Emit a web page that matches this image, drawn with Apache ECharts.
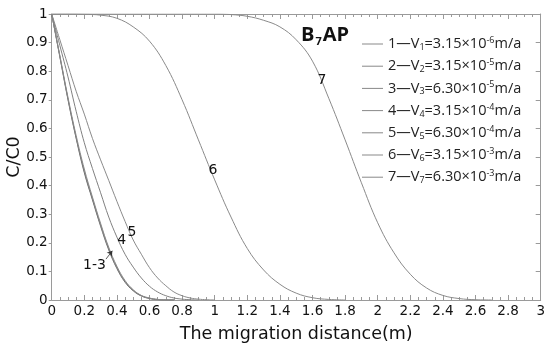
<!DOCTYPE html>
<html><head><meta charset="utf-8">
<script src="https://cdn.jsdelivr.net/npm/echarts@6/dist/echarts.min.js"></script>
<style>html,body{margin:0;padding:0;background:#fff}#c{width:550px;height:347px}</style>
</head><body><div id="c"></div>
<script>
// ---- data ----
const xTicks = ['0','0.2','0.4','0.6','0.8','1','1.2','1.4','1.6','1.8','2','2.2','2.4','2.6','2.8','3'];
const yTicks = ['0','0.1','0.2','0.3','0.4','0.5','0.6','0.7','0.8','0.9','1'];

const xA = [0,0.05,0.1,0.15,0.2,0.25,0.3,0.35,0.4,0.45,0.5,0.55,0.6,0.65,0.7,0.75];
const y1 = [1,0.85,0.70,0.565,0.445,0.35,0.258,0.175,0.11,0.062,0.032,0.014,0.005,0.001,0,0];
const y2 = [1,0.852,0.703,0.568,0.45,0.354,0.262,0.179,0.113,0.065,0.034,0.015,0.006,0.002,0,0];
const y3 = [1,0.855,0.708,0.575,0.458,0.36,0.268,0.184,0.118,0.068,0.036,0.016,0.007,0.002,0.001,0];

const xB = [0,0.05,0.1,0.15,0.2,0.25,0.3,0.35,0.4,0.45,0.5,0.55,0.6,0.65,0.7,0.75,0.8,0.85,0.9];
const y4 = [1,0.89,0.78,0.66,0.55,0.46,0.375,0.29,0.22,0.16,0.115,0.077,0.048,0.028,0.015,0.007,0.003,0.001,0];

const xC = [0,0.05,0.1,0.15,0.2,0.25,0.3,0.35,0.4,0.45,0.5,0.55,0.6,0.65,0.7,0.75,0.8,0.85,0.9,0.95,1.0];
const y5 = [1,0.91,0.82,0.73,0.65,0.565,0.49,0.418,0.345,0.275,0.21,0.16,0.113,0.077,0.05,0.028,0.015,0.007,0.003,0.001,0];

const xD = [0,0.1,0.2,0.3,0.4,0.5,0.6,0.7,0.8,0.9,1.0,1.1,1.2,1.3,1.4,1.5,1.6,1.7,1.8];
const y6 = [1,1,0.999,0.996,0.985,0.955,0.905,0.82,0.70,0.56,0.42,0.29,0.18,0.105,0.055,0.024,0.008,0.002,0];

const xE = [0,0.2,0.4,0.6,0.8,1.0,1.1,1.2,1.3,1.4,1.5,1.6,1.7,1.8,1.9,2.0,2.1,2.2,2.3,2.4,2.5,2.6,2.7];
const y7 = [1,1,1,1,1,1,0.998,0.992,0.978,0.955,0.91,0.835,0.705,0.56,0.41,0.27,0.165,0.09,0.042,0.016,0.005,0.001,0];

const seriesNames = ['1','2','3','4','5','6','7'];
const legendSub = ['1','2','3','4','5','6','7'];
const legendCoef = ['3.15','3.15','6.30','3.15','6.30','3.15','6.30'];
const legendExp = ['-6','-5','-5','-4','-4','-3','-3'];

// annotation labels: [text, x, y]
const annos = [['7',1.658,0.769],['6',0.99,0.455],['4',0.43,0.21],['5',0.493,0.238],['1-3',0.262,0.122]];
const arrowFrom = [0.333,0.143], arrowTo = [0.372,0.172];

// ---- build ----
function pairs(xs, ys){ return xs.map((x,i)=>[x, ys[i]]); }
const allData = [pairs(xA,y1),pairs(xA,y2),pairs(xA,y3),pairs(xB,y4),pairs(xC,y5),pairs(xD,y6),pairs(xE,y7)];
const lineColors = ['#707070','#7a7a7a','#8a8a8a','#808080','#8a8a8a','#8a8a8a','#8a8a8a'];

const fontTick = 'DejaVu Sans, Liberation Sans, sans-serif';
const legendFont = 'Open Sans, Noto Sans, sans-serif';
const axisGrey = '#9a9a9a';

const series = allData.map((d,i)=>({
  name: seriesNames[i], type:'line', data:d, showSymbol:false, symbol:'none',
  smooth:0.4,
  lineStyle:{color: lineColors[i], width:1},
  itemStyle:{color: lineColors[i]},
  animation:false
}));
series.push({
  name:'anno', type:'line', data:[], xAxisIndex:0, yAxisIndex:0, silent:true,
  markPoint:{
    symbol:'circle', symbolSize:0, animation:false,
    label:{show:true, position:'inside', color:'#111', fontSize:14, fontFamily:fontTick},
    data: annos.map(a=>({coord:[a[1],a[2]], value:a[0], label:{formatter:a[0]}}))
  },
  markLine:{
    silent:true, animation:false, symbol:['none','arrow'], symbolSize:5,
    lineStyle:{color:'#333', width:0.8, type:'solid'}, label:{show:false},
    data:[[{coord:arrowFrom},{coord:arrowTo}]]
  }
});

const chart = echarts.init(document.getElementById('c'), null, {renderer:'canvas'});
chart.setOption({
  backgroundColor:'#fff',
  animation:false,
  title:{
    text:'{b|B}{s|7}{b|AP}', left:296, top:20,
    textStyle:{rich:{
      b:{fontSize:20, fontWeight:'bold', fontFamily:'Open Sans, Liberation Sans, sans-serif', color:'#111', verticalAlign:'top', lineHeight:22},
      s:{fontSize:11, fontWeight:'bold', fontFamily:'Open Sans, Liberation Sans, sans-serif', color:'#111', verticalAlign:'bottom', lineHeight:22, padding:[8,1,0,1]}
    }}
  },
  legend:{
    show:true,
    orient:'vertical', left:357, top:31, itemWidth:21, itemHeight:1, itemGap:6.2,
    icon:'rect',
    itemStyle:{color:'#888', borderWidth:0, opacity:1},
    data: seriesNames,
    formatter: function(name){
      const i = seriesNames.indexOf(name);
      return '{t|'+name+'—V}{sub|'+legendSub[i]+'}{t|='+legendCoef[i]+'×10}{sup|'+legendExp[i]+'}{t|m/a}';
    },
    textStyle:{
      color:'#222',
      rich:{
        t:{fontSize:14.5, fontFamily:legendFont, color:'#222', lineHeight:16},
        sub:{fontSize:9, fontFamily:legendFont, color:'#222', lineHeight:16, verticalAlign:'bottom'},
        sup:{fontSize:9, fontFamily:legendFont, color:'#222', lineHeight:16, verticalAlign:'top'}
      }
    }
  },
  grid:{left:51.7, right:9.3, top:14, bottom:47, containLabel:false, outerBoundsMode:'none'},
  xAxis:[{
    type:'value', min:0, max:3, interval:0.2, position:'bottom',
    name:'The migration distance(m)', nameLocation:'middle', nameGap:25, nameMoveOverlap:false,
    nameTextStyle:{fontSize:17.5, fontFamily:fontTick, color:'#111'},
    axisLine:{show:true, onZero:false, lineStyle:{color:axisGrey, width:1}},
    axisTick:{show:true, inside:true, length:5, lineStyle:{color:axisGrey}},
    minorTick:{show:true, splitNumber:4, length:3, lineStyle:{color:axisGrey}},
    axisLabel:{fontSize:13.5, fontFamily:fontTick, color:'#111', margin:4,
      formatter:function(v){ const k=Math.round(v*5); return xTicks[k]; }},
    splitLine:{show:false}
  },{
    type:'value', min:0, max:3, interval:0.2, position:'top',
    axisLine:{show:true, onZero:false, lineStyle:{color:axisGrey, width:1}},
    axisTick:{show:true, inside:true, length:5, lineStyle:{color:axisGrey}},
    minorTick:{show:true, splitNumber:4, length:3, lineStyle:{color:axisGrey}},
    axisLabel:{show:false}, splitLine:{show:false}
  }],
  yAxis:[{
    type:'value', min:0, max:1, interval:0.1, position:'left',
    name:'C/C0', nameLocation:'middle', nameGap:28, nameRotate:90, nameMoveOverlap:false,
    nameTextStyle:{fontSize:17.5, fontFamily:fontTick, color:'#111'},
    axisLine:{show:true, onZero:false, lineStyle:{color:axisGrey, width:1}},
    axisTick:{show:true, inside:false, length:3, lineStyle:{color:axisGrey}},
    axisLabel:{fontSize:13.5, fontFamily:fontTick, color:'#111', margin:4,
      formatter:function(v){ const k=Math.round(v*10); return yTicks[k]; }},
    splitLine:{show:false}
  },{
    type:'value', min:0, max:1, interval:0.1, position:'right',
    axisLine:{show:true, onZero:false, lineStyle:{color:axisGrey, width:1}},
    axisTick:{show:true, inside:true, length:5, lineStyle:{color:axisGrey}},
    axisLabel:{show:false}, splitLine:{show:false}
  }],
  series: series
});
</script>
</body></html>
